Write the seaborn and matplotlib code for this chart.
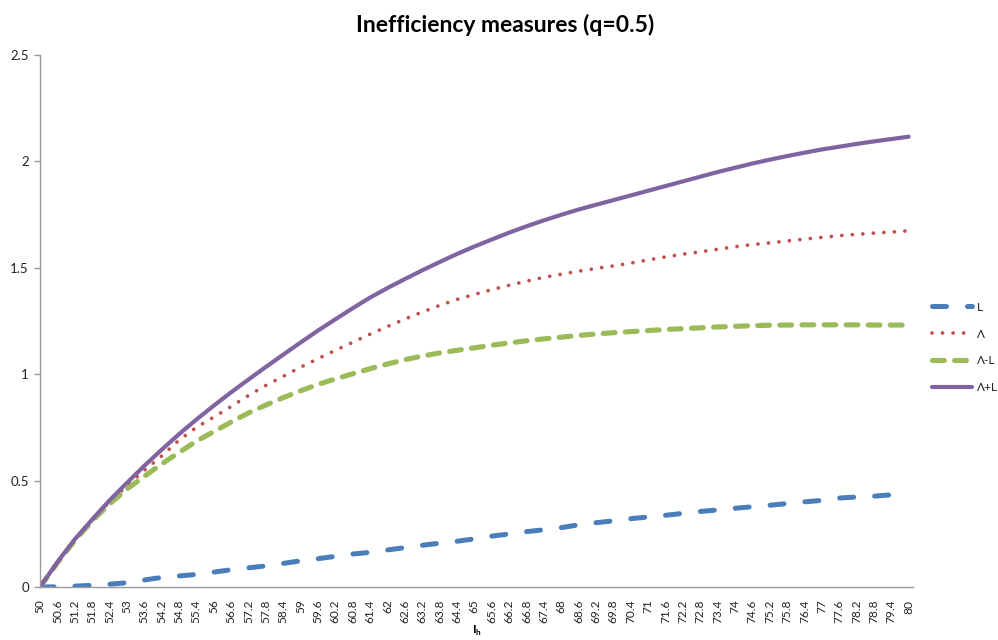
import matplotlib
matplotlib.use("Agg")
import matplotlib.pyplot as plt
import seaborn as sns
import pandas as pd

# ---- data ----
x_vals = [50, 50.6, 51.2, 51.8, 52.4, 53, 53.6, 54.2, 54.8, 55.4, 56, 56.6, 57.2, 57.8, 58.4,
          59, 59.6, 60.2, 60.8, 61.4, 62, 62.6, 63.2, 63.8, 64.4, 65, 65.6, 66.2, 66.8, 67.4,
          68, 68.6, 69.2, 69.8, 70.4, 71, 71.6, 72.2, 72.8, 73.4, 74, 74.6, 75.2, 75.8, 76.4,
          77, 77.6, 78.2, 78.8, 79.4, 80]
tick_labels = ["50", "50.6", "51.2", "51.8", "52.4", "53", "53.6", "54.2", "54.8", "55.4", "56",
               "56.6", "57.2", "57.8", "58.4", "59", "59.6", "60.2", "60.8", "61.4", "62", "62.6",
               "63.2", "63.8", "64.4", "65", "65.6", "66.2", "66.8", "67.4", "68", "68.6", "69.2",
               "69.8", "70.4", "71", "71.6", "72.2", "72.8", "73.4", "74", "74.6", "75.2", "75.8",
               "76.4", "77", "77.6", "78.2", "78.8", "79.4", "80"]

L_vals = [0, 0.001, 0.004, 0.008, 0.013, 0.020, 0.033, 0.045, 0.052, 0.059, 0.070, 0.081, 0.090,
          0.099, 0.111, 0.123, 0.133, 0.144, 0.155, 0.163, 0.174, 0.185, 0.196, 0.206, 0.215,
          0.226, 0.239, 0.249, 0.260, 0.269, 0.279, 0.292, 0.302, 0.311, 0.321, 0.329, 0.337,
          0.346, 0.355, 0.362, 0.370, 0.377, 0.384, 0.392, 0.400, 0.407, 0.418, 0.423, 0.427,
          0.433, 0.440]
Lam_vals = [0, 0.115, 0.222, 0.315, 0.400, 0.475, 0.548, 0.615, 0.690, 0.750, 0.798, 0.848,
            0.900, 0.947, 0.990, 1.033, 1.073, 1.112, 1.150, 1.188, 1.224, 1.259, 1.292, 1.323,
            1.351, 1.375, 1.397, 1.418, 1.437, 1.455, 1.470, 1.484, 1.497, 1.509, 1.522, 1.537,
            1.551, 1.564, 1.575, 1.587, 1.599, 1.609, 1.617, 1.626, 1.635, 1.643, 1.651, 1.657,
            1.663, 1.668, 1.674]
LamMinusL_vals = [0, 0.113, 0.218, 0.310, 0.390, 0.460, 0.520, 0.578, 0.632, 0.685, 0.730,
                  0.775, 0.818, 0.855, 0.890, 0.922, 0.952, 0.978, 1.002, 1.026, 1.048, 1.068,
                  1.085, 1.100, 1.112, 1.124, 1.136, 1.147, 1.157, 1.166, 1.174, 1.182, 1.189,
                  1.195, 1.200, 1.205, 1.210, 1.214, 1.218, 1.222, 1.225, 1.228, 1.230, 1.231,
                  1.232, 1.232, 1.232, 1.232, 1.231, 1.231, 1.231]
LamPlusL_vals = [0, 0.117, 0.224, 0.317, 0.407, 0.489, 0.569, 0.645, 0.718, 0.787, 0.852, 0.915,
                 0.975, 1.034, 1.092, 1.149, 1.205, 1.258, 1.310, 1.360, 1.405, 1.447, 1.488,
                 1.527, 1.565, 1.600, 1.633, 1.665, 1.695, 1.723, 1.749, 1.774, 1.796, 1.818,
                 1.840, 1.862, 1.884, 1.906, 1.928, 1.950, 1.970, 1.990, 2.008, 2.025, 2.041,
                 2.056, 2.069, 2.082, 2.094, 2.105, 2.116]

series_names = ["L", "Λ", "Λ-L", "Λ+L"]
y_ticks = [0, 0.5, 1, 1.5, 2, 2.5]
y_tick_labels = ["0", "0.5", "1", "1.5", "2", "2.5"]

# ---- styling ----
sns.set_theme(style="white")
plt.rcParams["font.family"] = ["Lato", "DejaVu Sans"]

fig = plt.figure(figsize=(9.98, 6.40), dpi=100)
ax = fig.add_axes([40 / 998, 53 / 640, (913 - 40) / 998, (587 - 55) / 640])

df = pd.DataFrame({"x": x_vals, "L": L_vals, "Λ": Lam_vals,
                   "Λ-L": LamMinusL_vals, "Λ+L": LamPlusL_vals})

styles = {
    "L": dict(color="#4A7EBB", lw=3.6, dashes=(2.8, 4.2)),
    "Λ": dict(color="#C0504D", lw=2.7, dashes=(0.01, 2.8)),
    "Λ-L": dict(color="#9BBB59", lw=3.7, dashes=(2.3, 2.0)),
    "Λ+L": dict(color="#8064A2", lw=3.0, dashes=None),
}

for name in series_names:
    st = styles[name]
    sns.lineplot(data=df, x="x", y=name, ax=ax, color=st["color"], lw=st["lw"], label=name)
    ln = ax.get_lines()[-1]
    ln.set_solid_capstyle("round")
    ln.set_dash_capstyle("round")
    if st["dashes"] is not None:
        ln.set_dashes(st["dashes"])

ax.set_xlim(50, 80.15)
ax.set_ylim(0, 2.5)
ax.set_xticks(x_vals)
ax.set_xticklabels(tick_labels, rotation=90, fontsize=8.6, color="#222222")
ax.set_yticks(y_ticks)
ax.set_yticklabels(y_tick_labels, fontsize=9.5, color="#222222")

for side in ["top", "right"]:
    ax.spines[side].set_visible(False)
for side in ["left", "bottom"]:
    ax.spines[side].set_color("#9a9a9a")
    ax.spines[side].set_linewidth(1.0)

ax.tick_params(axis="y", which="both", left=True, length=4, width=1, color="#9a9a9a", pad=4)
ax.tick_params(axis="x", which="both", bottom=False, pad=3)

ax.set_xlabel("")
ax.set_ylabel("")
fig.text(477 / 998, 1 - 631 / 640, r"I$_\mathregular{h}$", ha="center", va="center",
         fontsize=8.5, fontweight="bold", color="#000000")

fig.text(505 / 998, 1 - 25 / 640, "Inefficiency measures (q=0.5)", ha="center", va="center",
         fontsize=16.5, fontweight="bold", color="#000000")

leg = ax.legend(loc="center left", bbox_to_anchor=(932 / 998, 1 - 347.5 / 640),
                bbox_transform=fig.transFigure, frameon=False, fontsize=8.5,
                handlelength=3.4, handletextpad=0.4, labelspacing=1.35, borderpad=0,
                borderaxespad=0)
for t in leg.get_texts():
    t.set_color("#222222")

fig.savefig("out.png", dpi=100, facecolor="white")
